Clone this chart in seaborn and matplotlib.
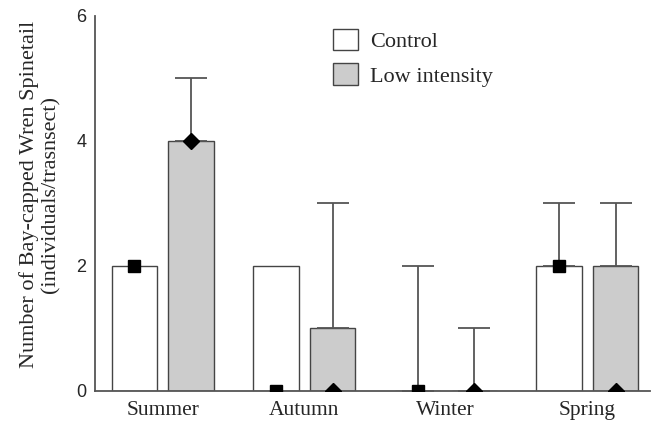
import pandas as pd
import numpy as np
import matplotlib
matplotlib.use('Agg')
import matplotlib.pyplot as plt
import seaborn as sns

seasons = ['Summer', 'Autumn', 'Winter', 'Spring']
treatments = ['Control', 'Low intensity']
control_mean = [2, 2, 0, 2]
low_mean = [4, 1, 0, 2]
control_upper = [np.nan, np.nan, 2, 3]
low_upper = [5, 3, 1, 3]
control_median = [2, 0, 0, 2]
low_median = [4, 0, 0, 0]

sns.set_theme(style="white")
plt.rcParams['font.family'] = ['Liberation Serif', 'DejaVu Serif']

df = pd.DataFrame({
    'Season': seasons * 2,
    'Treatment': [treatments[0]] * 4 + [treatments[1]] * 4,
    'Value': control_mean + low_mean,
})

fig = plt.figure(figsize=(6.53, 4.23), dpi=100)
ax = fig.add_axes([0.145, 0.0757, 0.85, 0.8865])

ax = sns.barplot(data=df, x='Season', y='Value', hue='Treatment', order=seasons,
                 hue_order=treatments, palette={'Control': 'white', 'Low intensity': '#cccccc'},
                 width=0.8, gap=0.2, edgecolor='#444444', linewidth=1.0, errorbar=None, ax=ax)

uppers = [control_upper, low_upper]
medians = [control_median, low_median]
marks = ['s', 'D']
bar_groups = list(ax.containers)
for i, cont in enumerate(bar_groups):
    xs = np.array([b.get_x() + b.get_width() / 2 for b in cont])
    hs = np.array([b.get_height() for b in cont])
    up = np.array(uppers[i], dtype=float)
    ok = ~np.isnan(up)
    ax.errorbar(xs[ok], hs[ok], yerr=[np.zeros(ok.sum()), up[ok] - hs[ok]], fmt='none',
                ecolor='#555555', elinewidth=1.3, capsize=11.5, capthick=1.3, zorder=1)
    ax.plot(xs, medians[i], linestyle='none', marker=marks[i], color='black',
            markersize=8.5 if i == 0 else 8, zorder=5, clip_on=True)

ax.set_ylim(0, 6)
ax.set_xlim(-0.48, 3.44)
ax.set_yticks([0, 2, 4, 6])
ax.set_yticklabels(['0', '2', '4', '6'], family=['Liberation Sans', 'DejaVu Sans'], fontsize=13)
ax.tick_params(axis='y', length=3, direction='in', color='#555555', pad=6)
ax.tick_params(axis='x', length=0, labelsize=15.5, pad=7)
ax.set_xlabel('')
ax.set_ylabel('Number of Bay-capped Wren Spinetail\n(individuals/trasnsect)', fontsize=16,
              linespacing=1.15)
ax.yaxis.set_label_coords(-0.061, 0.525)
sns.despine(ax=ax)
for s in ['left', 'bottom']:
    ax.spines[s].set_color('#555555')
    ax.spines[s].set_linewidth(1.3)

leg = ax.legend(loc='upper left', bbox_to_anchor=(0.43, 0.965), frameon=False, fontsize=16,
                borderpad=0, borderaxespad=0, handlelength=1.1, handleheight=1.1,
                handletextpad=0.55, labelspacing=0.5)

fig.savefig('out.png', dpi=100)
